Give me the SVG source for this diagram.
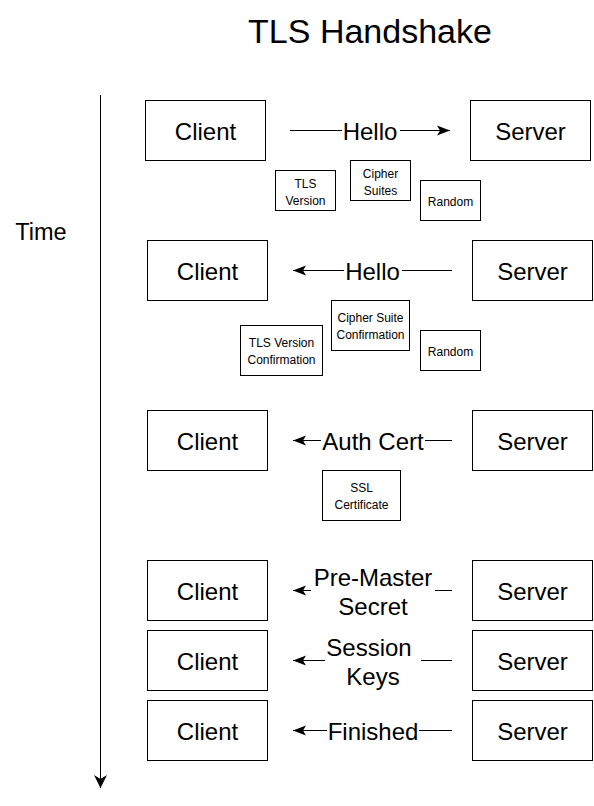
<svg xmlns="http://www.w3.org/2000/svg" width="594" height="806" viewBox="0 0 594 806">
<style>
.box{fill:#fff;stroke:#000;stroke-width:1}
.big{font-family:"Liberation Sans",Arial,sans-serif;font-size:24px;fill:#000;text-anchor:middle}
.small{font-family:"Liberation Sans",Arial,sans-serif;font-size:12px;fill:#000;text-anchor:middle}
.edge{fill:none;stroke:#000;stroke-width:1}
.lblbg{fill:#fff;stroke:none}
</style>
<defs>
<marker id="arr" markerUnits="userSpaceOnUse" markerWidth="14" markerHeight="12" refX="13" refY="5" orient="auto" viewBox="0 0 14 10">
<path d="M0,0 L13,5 L0,10 L3,5 Z" fill="#000"/>
</marker>
<marker id="arrT" markerUnits="userSpaceOnUse" markerWidth="14" markerHeight="14" refX="13" refY="6.5" orient="auto" viewBox="0 0 14 13">
<path d="M0,0 L13,6.5 L0,13 L4,6.5 Z" fill="#000"/>
</marker>
</defs>
<rect width="594" height="806" fill="#fff"/>
<text id="title" x="370" y="43" font-family="Liberation Sans,Arial,sans-serif" font-size="34" text-anchor="middle" fill="#000">TLS Handshake</text>
<g id="time-axis">
<line class="edge" x1="100.5" y1="95" x2="100.5" y2="788" marker-end="url(#arrT)"/>
<text x="41" y="240" font-family="Liberation Sans,Arial,sans-serif" font-size="23.5" text-anchor="middle" fill="#000">Time</text>
</g>
<g id="connectors">
<line class="edge" x1="290" y1="130.5" x2="450" y2="130.5" marker-end="url(#arr)"/>
<line class="edge" x1="452" y1="270.5" x2="293" y2="270.5" marker-end="url(#arr)"/>
<line class="edge" x1="452" y1="440.5" x2="293" y2="440.5" marker-end="url(#arr)"/>
<line class="edge" x1="452" y1="590.5" x2="293" y2="590.5" marker-end="url(#arr)"/>
<line class="edge" x1="452" y1="660.5" x2="293" y2="660.5" marker-end="url(#arr)"/>
<line class="edge" x1="452" y1="730.5" x2="293" y2="730.5" marker-end="url(#arr)"/>
<rect class="lblbg" x="342" y="118" width="58" height="26"/>
<text class="big" x="370" y="140">Hello</text>
<rect class="lblbg" x="344" y="258" width="58" height="26"/>
<text class="big" x="372.5" y="280">Hello</text>
<rect class="lblbg" x="321" y="428" width="104" height="26"/>
<text class="big" x="373" y="450">Auth Cert</text>
<rect class="lblbg" x="311" y="563" width="124" height="56"/>
<text class="big" x="373" y="586">Pre-Master</text>
<text class="big" x="373" y="615">Secret</text>
<rect class="lblbg" x="325" y="633" width="96" height="56"/>
<text class="big" x="369" y="656">Session</text>
<text class="big" x="373" y="685">Keys</text>
<rect class="lblbg" x="327" y="718" width="92" height="26"/>
<text class="big" x="373" y="740">Finished</text>
</g>
<g id="client1"><rect class="box" x="145.5" y="100.5" width="120" height="60"/><text class="big" x="205.5" y="140">Client</text></g>
<g id="server1"><rect class="box" x="470.5" y="100.5" width="120" height="60"/><text class="big" x="530.5" y="140">Server</text></g>
<g id="tls-version"><rect class="box" x="275.5" y="170.5" width="60" height="40"/><text class="small" x="305.5" y="188">TLS</text><text class="small" x="305.5" y="205">Version</text></g>
<g id="cipher-suites"><rect class="box" x="350.5" y="160.5" width="60" height="40"/><text class="small" x="380.5" y="178">Cipher</text><text class="small" x="380.5" y="195">Suites</text></g>
<g id="random1"><rect class="box" x="420.5" y="180.5" width="60" height="40"/><text class="small" x="450.5" y="206">Random</text></g>
<g id="client2"><rect class="box" x="147.5" y="240.5" width="120" height="60"/><text class="big" x="207.5" y="280">Client</text></g>
<g id="server2"><rect class="box" x="472.5" y="240.5" width="120" height="60"/><text class="big" x="532.5" y="280">Server</text></g>
<g id="cipher-confirm"><rect class="box" x="331.5" y="300.5" width="78" height="50"/><text class="small" x="370.5" y="322">Cipher Suite</text><text class="small" x="370.5" y="339">Confirmation</text></g>
<g id="tls-confirm"><rect class="box" x="240.5" y="325.5" width="82" height="50"/><text class="small" x="281.5" y="347">TLS Version</text><text class="small" x="281.5" y="364">Confirmation</text></g>
<g id="random2"><rect class="box" x="420.5" y="330.5" width="60" height="40"/><text class="small" x="450.5" y="356">Random</text></g>
<g id="client3"><rect class="box" x="147.5" y="410.5" width="120" height="60"/><text class="big" x="207.5" y="450">Client</text></g>
<g id="server3"><rect class="box" x="472.5" y="410.5" width="120" height="60"/><text class="big" x="532.5" y="450">Server</text></g>
<g id="ssl-cert"><rect class="box" x="322.5" y="470.5" width="78" height="50"/><text class="small" x="361.5" y="492">SSL</text><text class="small" x="361.5" y="509">Certificate</text></g>
<g id="client4"><rect class="box" x="147.5" y="560.5" width="120" height="60"/><text class="big" x="207.5" y="600">Client</text></g>
<g id="server4"><rect class="box" x="472.5" y="560.5" width="120" height="60"/><text class="big" x="532.5" y="600">Server</text></g>
<g id="client5"><rect class="box" x="147.5" y="630.5" width="120" height="60"/><text class="big" x="207.5" y="670">Client</text></g>
<g id="server5"><rect class="box" x="472.5" y="630.5" width="120" height="60"/><text class="big" x="532.5" y="670">Server</text></g>
<g id="client6"><rect class="box" x="147.5" y="700.5" width="120" height="60"/><text class="big" x="207.5" y="740">Client</text></g>
<g id="server6"><rect class="box" x="472.5" y="700.5" width="120" height="60"/><text class="big" x="532.5" y="740">Server</text></g>
</svg>
